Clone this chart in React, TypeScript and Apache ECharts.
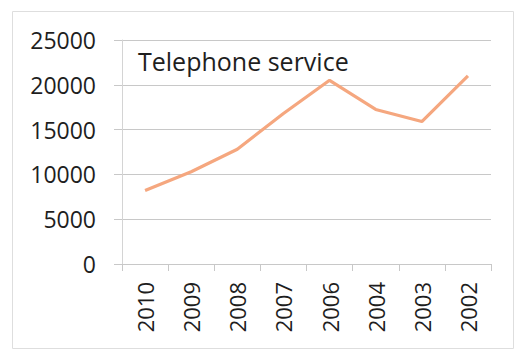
import React, { useEffect, useRef } from "react";
import * as echarts from "echarts";

const categories = ["2010", "2009", "2008", "2007", "2006", "2004", "2003", "2002"];
const telephoneService = [8200, 10300, 12800, 16800, 20500, 17250, 15900, 21000];
const seriesName = "Telephone service";
const yMin = 0;
const yMax = 25000;
const yInterval = 5000;

export default function App() {
  const ref = useRef<HTMLDivElement>(null);
  useEffect(() => {
    if (!ref.current) return;
    const chart = echarts.init(ref.current, undefined, { renderer: "svg" });
    const font = "'Open Sans', 'Liberation Sans', sans-serif";
    chart.setOption({
      animation: false,
      backgroundColor: "#ffffff",
      textStyle: { fontFamily: font },
      title: {
        text: seriesName,
        left: 133,
        top: 43,
        textStyle: { fontFamily: font, fontSize: 25, fontWeight: "normal", color: "#1e1e1e" },
      },
      graphic: [
        {
          type: "rect",
          shape: { x: 12.5, y: 11.5, width: 501, height: 337 },
          style: { fill: "none", stroke: "#dedede", lineWidth: 1 },
          silent: true,
        },
      ],
      grid: { left: 122, right: 25, top: 40, bottom: 86, containLabel: false },
      xAxis: {
        type: "category",
        data: categories,
        boundaryGap: true,
        axisLine: { show: true, lineStyle: { color: "#c8c8c8", width: 1 } },
        axisTick: { show: true, length: 7, alignWithLabel: false, lineStyle: { color: "#c8c8c8" } },
        axisLabel: {
          rotate: 90,
          margin: 18,
          fontFamily: font,
          fontSize: 22,
          color: "#1e1e1e",
          interval: 0,
        },
        splitLine: { show: false },
      },
      yAxis: {
        type: "value",
        min: yMin,
        max: yMax,
        interval: yInterval,
        axisLine: { show: true, lineStyle: { color: "#d4d4d4", width: 1 } },
        axisTick: { show: true, length: 8, lineStyle: { color: "#c8c8c8" } },
        axisLabel: {
          margin: 26,
          fontFamily: font,
          fontSize: 23,
          color: "#1e1e1e",
          formatter: (v: number) => String(v),
        },
        splitLine: { show: true, lineStyle: { color: "#c8c8c8", width: 1 } },
      },
      series: [
        {
          name: seriesName,
          type: "line",
          data: telephoneService,
          showSymbol: false,
          symbol: "none",
          lineStyle: { color: "#F5A77F", width: 3.2 },
          itemStyle: { color: "#F5A77F" },
        },
      ],
    });
    return () => chart.dispose();
  }, []);
  return <div ref={ref} style={{ width: 516, height: 350, position: "absolute", left: 0, top: 0 }} />;
}
